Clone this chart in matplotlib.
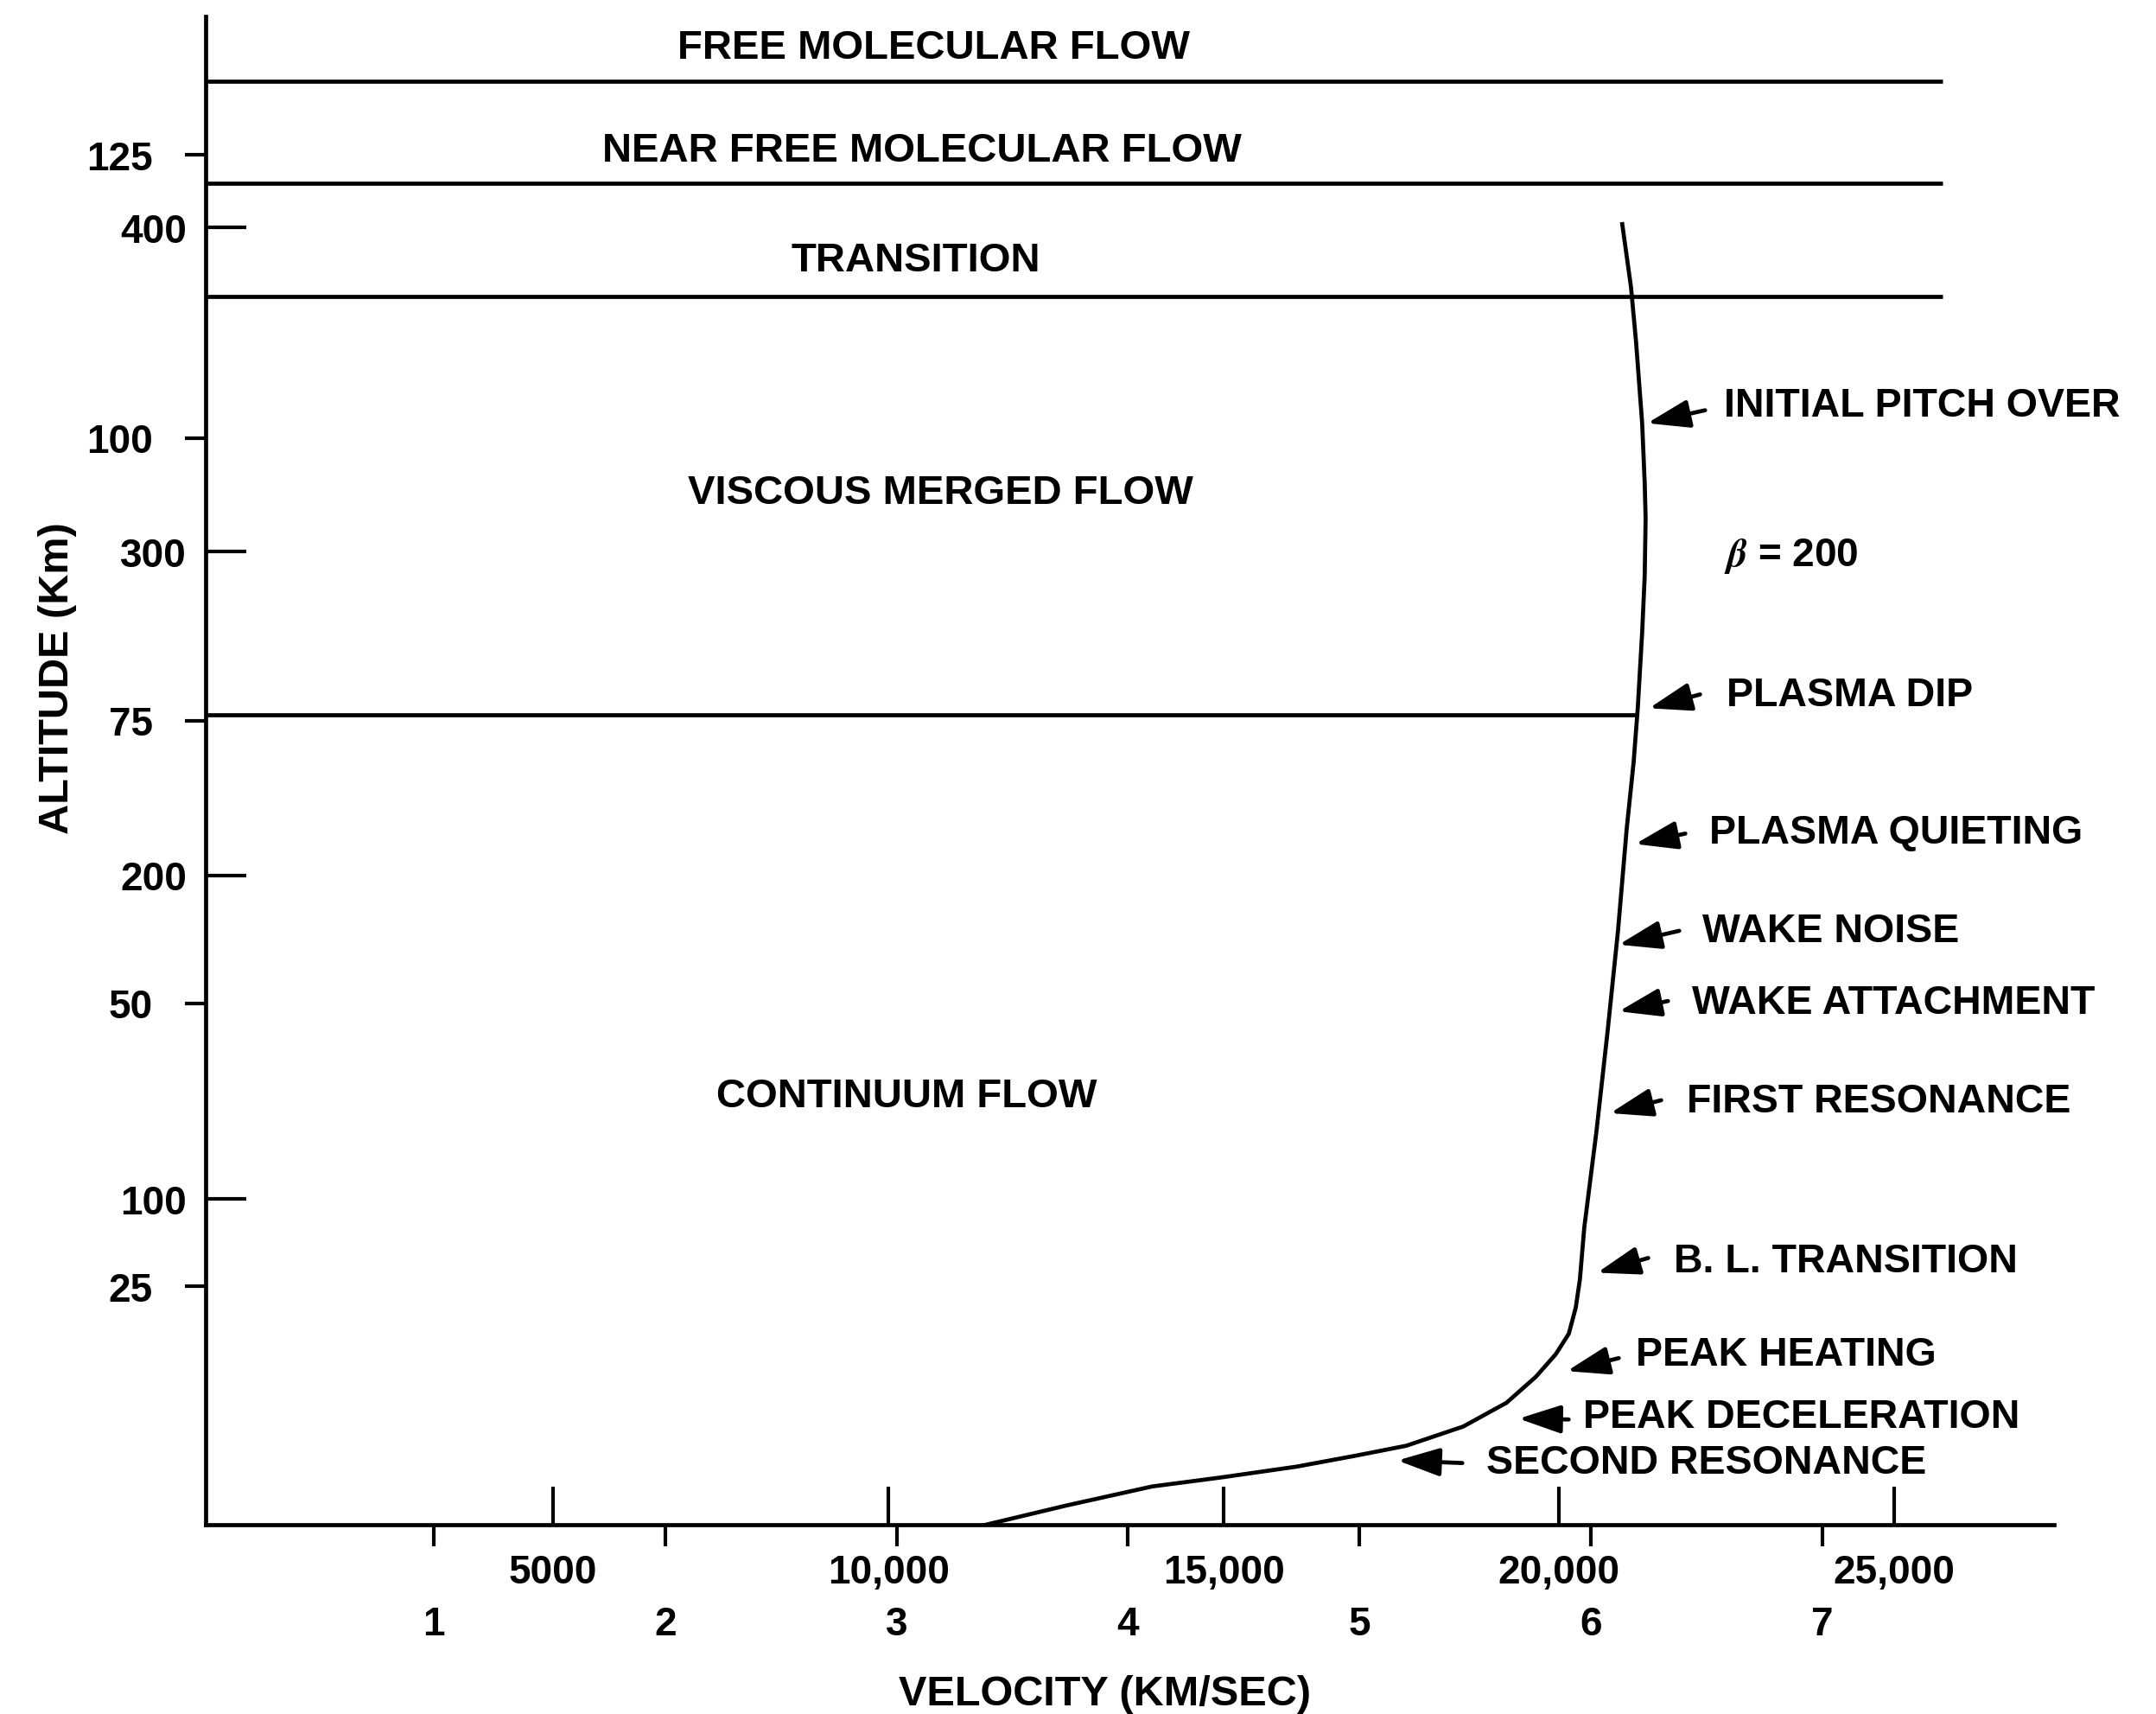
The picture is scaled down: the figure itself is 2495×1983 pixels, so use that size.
import numpy as np
import matplotlib.pyplot as plt

plt.rcParams['font.family'] = ['Liberation Sans', 'DejaVu Sans']
plt.rcParams['font.weight'] = 'bold'
plt.rcParams['axes.labelweight'] = 'bold'
plt.rcParams['mathtext.fontset'] = 'stix'

# entry trajectory: velocity (km/sec) against altitude (km)
curve_v = [6.135, 6.173, 6.195, 6.221, 6.232, 6.236, 6.232, 6.221, 6.202, 6.184,
           6.154, 6.117, 6.072, 6.023, 5.971, 5.952, 5.934, 5.904, 5.848, 5.762,
           5.635, 5.448, 5.202, 4.978, 4.727, 4.403, 4.104, 3.730, 3.372]
curve_alt = [118.9, 113.3, 108.4, 101.3, 96.0, 92.9, 87.8, 82.8, 76.1, 71.3,
             65.4, 56.5, 47.6, 38.6, 30.2, 25.6, 23.1, 20.8, 19.0, 17.0,
             14.7, 12.6, 10.9, 10.0, 9.05, 8.1, 7.3, 5.6, 3.85]

# flow regime boundaries (km)
boundary_alt = [131.5, 122.5, 112.5, 75.5]
region_names = ['FREE MOLECULAR FLOW', 'NEAR FREE MOLECULAR FLOW', 'TRANSITION',
                'VISCOUS MERGED FLOW', 'CONTINUUM FLOW']

# events along the trajectory
event_names = ['INITIAL PITCH OVER', 'PLASMA DIP', 'PLASMA QUIETING', 'WAKE NOISE',
               'WAKE ATTACHMENT', 'FIRST RESONANCE', 'B. L. TRANSITION',
               'PEAK HEATING', 'PEAK DECELERATION', 'SECOND RESONANCE']
event_v = [6.243, 6.251, 6.191, 6.120, 6.120, 6.083, 6.027, 5.896, 5.687, 5.164]
event_alt = [101.3, 76.1, 64.1, 55.2, 49.3, 40.3, 26.2, 17.5, 13.3, 9.6]

# axis scales
alt_ticks = [25, 50, 75, 100, 125]
kft_ticks = [100, 200, 300, 400]
kms_ticks = [1, 2, 3, 4, 5, 6, 7]
fts_ticks = [5000, 10000, 15000, 20000, 25000]
fts_labels = ['5000', '10,000', '15,000', '20,000', '25,000']


def alt_to_kft(a):
    return (np.asarray(a) - 4.07) / 0.2863


def kft_to_alt(k):
    return 4.07 + 0.2863 * np.asarray(k)


def kms_to_fts(v):
    return (np.asarray(v) - 0.067) / 2.8975e-4


def fts_to_kms(f):
    return 0.067 + 2.8975e-4 * np.asarray(f)


W, H = 2495, 1983
fig = plt.figure(figsize=(24.955, 19.835), dpi=100)
ax = fig.add_axes([238 / W, 1 - 1764.3 / H, (2376.4 - 238) / W, (1764.3 - 19) / H])
ax.set_xlim(0.015, 8.0)
ax.set_ylim(3.9, 137.3)

for side in ['top', 'right']:
    ax.spines[side].set_visible(False)
for side in ['left', 'bottom']:
    ax.spines[side].set_linewidth(3.4)

ax.set_yticks(alt_ticks, labels=[str(a) for a in alt_ticks])
ax.tick_params(axis='y', direction='out', length=17, width=3, pad=27, labelsize=33)
ax.set_xticks(kms_ticks, labels=[str(k) for k in kms_ticks])
ax.tick_params(axis='x', direction='out', length=18, width=3, pad=49, labelsize=33)

sec_y = ax.secondary_yaxis('left', functions=(alt_to_kft, kft_to_alt))
sec_y.set_yticks(kft_ticks, labels=[str(k) for k in kft_ticks])
sec_y.tick_params(direction='in', length=34, width=3, pad=16, labelsize=33)
sec_y.spines['left'].set_visible(False)

sec_x = ax.secondary_xaxis('bottom', functions=(kms_to_fts, fts_to_kms))
sec_x.set_xticks(fts_ticks, labels=fts_labels)
sec_x.tick_params(direction='in', length=32, width=3, pad=24, labelsize=33)
sec_x.spines['bottom'].set_visible(False)

# trajectory
ax.plot(curve_v, curve_alt, color='black', lw=3.4)

# regime boundaries, the lowest one stops at the trajectory
x0 = ax.get_xlim()[0]
ax.hlines(boundary_alt[:3], x0, 7.52, color='black', lw=3.4)
v_cross = np.interp(boundary_alt[3], curve_alt[::-1], curve_v[::-1])
ax.hlines(boundary_alt[3], x0, v_cross, color='black', lw=3.4)

region_pos = [(3.159, 134.5), (3.111, 125.4), (3.084, 115.7), (3.189, 95.1), (3.044, 41.8)]
for name, (x, y) in zip(region_names, region_pos):
    ax.text(x, y, name, ha='center', va='center', fontsize=34)

# arrow tails and label offsets in pixels from the event point
tail_off = [(67, 15), (59, 16), (58, 12), (70, 16), (57, 12),
            (59, 15), (59, 17), (60, 15), (58, -1), (75, -3)]
text_off = [(89, 20), (90, 15), (86, 13), (97, 15), (85, 10),
            (89, 13), (89, 13), (80, 19), (75, 2), (103, -3)]
for name, v, a, t, o in zip(event_names, event_v, event_alt, tail_off, text_off):
    ax.annotate('', xy=(v, a), xytext=t, textcoords='offset pixels',
                arrowprops=dict(arrowstyle='-|>,head_length=1.5,head_width=0.5',
                                mutation_scale=20, lw=3.4, color='black',
                                shrinkA=0, shrinkB=0))
    ax.annotate(name, xy=(v, a), xytext=o, textcoords='offset pixels',
                ha='left', va='center', fontsize=33.5)

ax.text(6.576, 89.6, r'$\beta$ = 200', ha='left', va='center', fontsize=33)

ax.set_xlabel('VELOCITY (KM/SEC)', fontsize=35)
ax.xaxis.set_label_coords(0.4863, -0.0995)
ax.set_ylabel('ALTITUDE (Km)', fontsize=35)
ax.yaxis.set_label_coords(-0.0697, 0.5617)

fig.savefig('out.png', dpi=100)
